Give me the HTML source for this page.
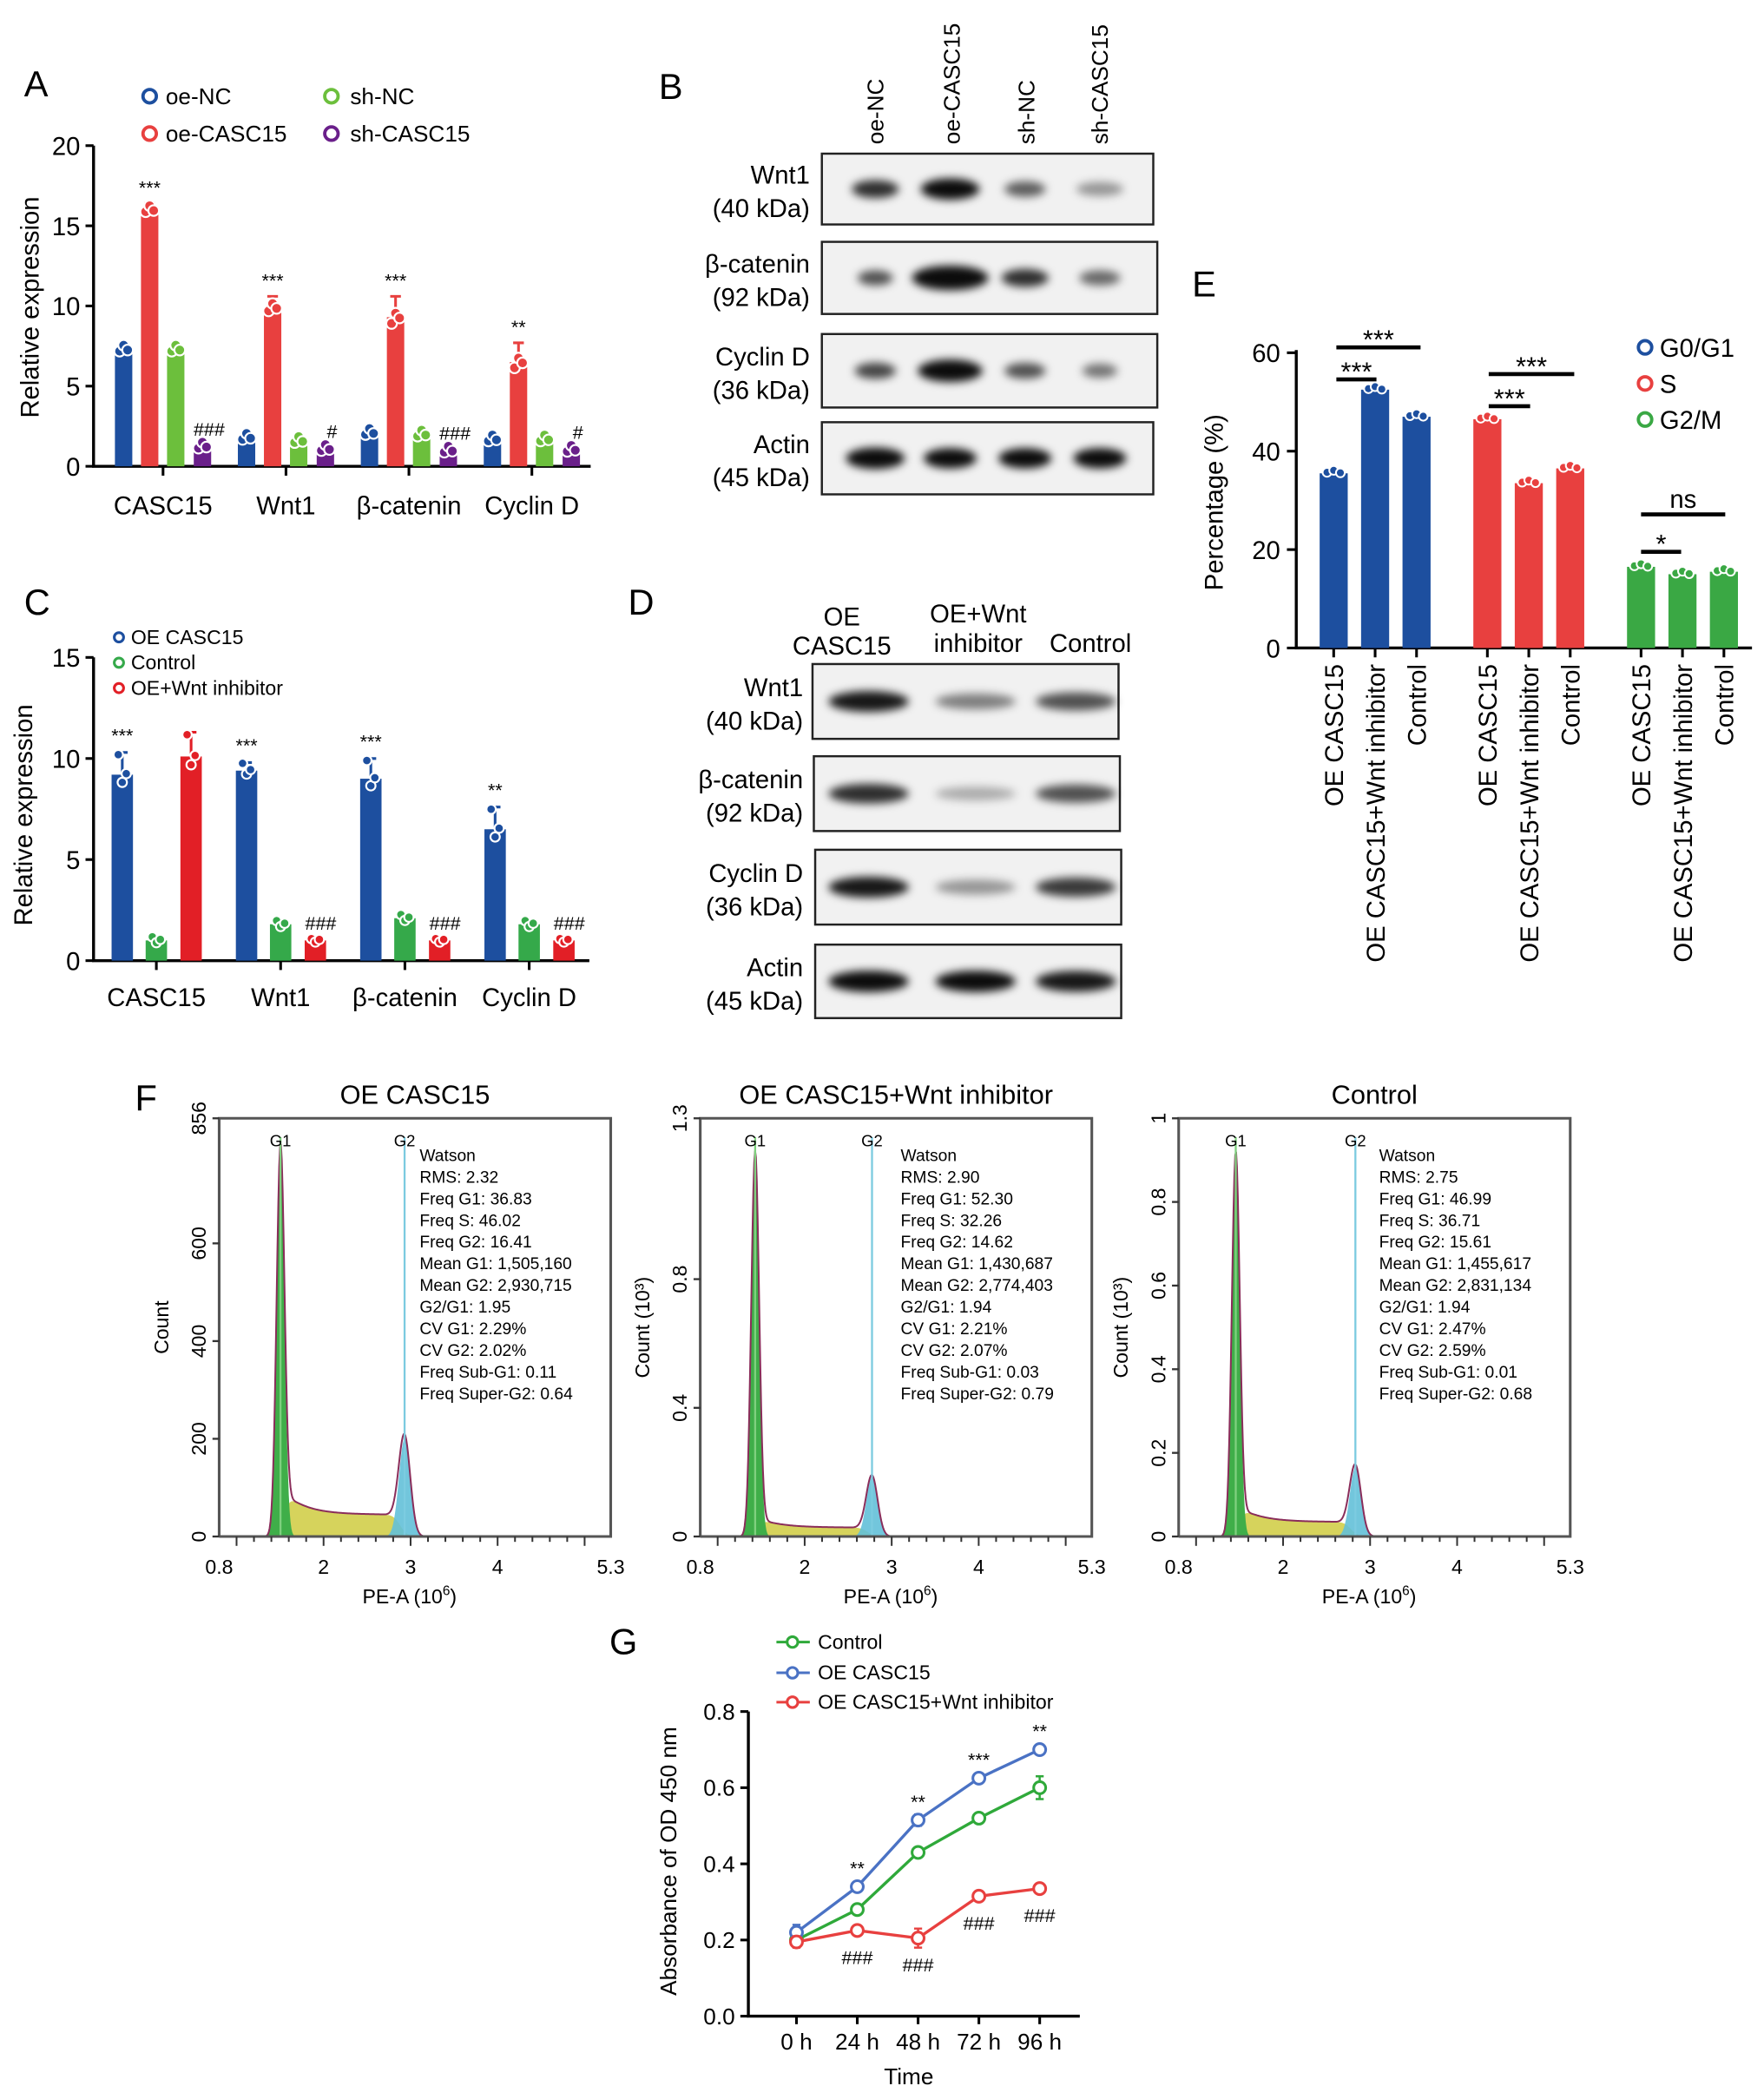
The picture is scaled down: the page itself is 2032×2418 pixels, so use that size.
<!DOCTYPE html>
<html><head><meta charset="utf-8"><style>html,body{margin:0;padding:0;background:#fff}svg{display:block}</style></head>
<body>
<svg id="fig" xmlns="http://www.w3.org/2000/svg" width="2032" height="2418" viewBox="0 0 1320 1571" preserveAspectRatio="none" font-family="Liberation Sans, Arial, sans-serif">
<defs><filter id="blur" x="-50%" y="-100%" width="200%" height="300%"><feGaussianBlur stdDeviation="3.2"/></filter></defs>
<rect width="1320" height="1571" fill="#fff"/>
<!-- Panel letters -->
<text x="18" y="72" font-size="27">A</text>
<text x="493" y="74" font-size="27">B</text>
<text x="18" y="460" font-size="27">C</text>
<text x="470" y="460" font-size="27">D</text>
<text x="892" y="222" font-size="27">E</text>
<text x="101" y="831" font-size="27">F</text>
<text x="456" y="1238" font-size="27">G</text>
<!-- A legend -->
<g font-size="17">
<circle cx="112" cy="72" r="5" fill="none" stroke="#1d4f9f" stroke-width="2.5"/><text x="124" y="78">oe-NC</text>
<circle cx="248" cy="72" r="5" fill="none" stroke="#6cbf3c" stroke-width="2.5"/><text x="262" y="78">sh-NC</text>
<circle cx="112" cy="100" r="5" fill="none" stroke="#e8403f" stroke-width="2.5"/><text x="124" y="106">oe-CASC15</text>
<circle cx="248" cy="100" r="5" fill="none" stroke="#6a1f8a" stroke-width="2.5"/><text x="262" y="106">sh-CASC15</text>
</g>
<text transform="translate(29,230) rotate(-90)" text-anchor="middle" font-size="19">Relative expression</text>
<!-- C legend -->
<g font-size="15">
<circle cx="89" cy="477" r="3.5" fill="none" stroke="#1d4f9f" stroke-width="2"/><text x="98" y="482">OE CASC15</text>
<circle cx="89" cy="496" r="3.5" fill="none" stroke="#35a94a" stroke-width="2"/><text x="98" y="501">Control</text>
<circle cx="89" cy="515" r="3.5" fill="none" stroke="#e21f26" stroke-width="2"/><text x="98" y="520">OE+Wnt inhibitor</text>
</g>
<text transform="translate(24,610) rotate(-90)" text-anchor="middle" font-size="19">Relative expression</text>
<!-- D headers -->
<g font-size="19" text-anchor="middle">
<text x="630" y="468">OE</text>
<text x="630" y="490">CASC15</text>
<text x="732" y="466">OE+Wnt</text>
<text x="732" y="488">inhibitor</text>
<text x="816" y="488">Control</text>
</g>
<!-- E legend -->
<g font-size="19">
<circle cx="1231" cy="260" r="5" fill="none" stroke="#1d4f9f" stroke-width="2.5"/><text x="1242" y="267">G0/G1</text>
<circle cx="1231" cy="287" r="5" fill="none" stroke="#e8403f" stroke-width="2.5"/><text x="1242" y="294">S</text>
<circle cx="1231" cy="314" r="5" fill="none" stroke="#3aa844" stroke-width="2.5"/><text x="1242" y="321">G2/M</text>
</g>
<text transform="translate(915,376) rotate(-90)" text-anchor="middle" font-size="19">Percentage (%)</text>
<!-- G legend / titles -->
<g font-size="15">
<line x1="581" y1="1229" x2="606" y2="1229" stroke="#2fa93a" stroke-width="2"/><circle cx="593" cy="1229" r="4" fill="#fff" stroke="#2fa93a" stroke-width="2"/><text x="612" y="1234">Control</text>
<line x1="581" y1="1252" x2="606" y2="1252" stroke="#4a72c4" stroke-width="2"/><circle cx="593" cy="1252" r="4" fill="#fff" stroke="#4a72c4" stroke-width="2"/><text x="612" y="1257">OE CASC15</text>
<line x1="581" y1="1274" x2="606" y2="1274" stroke="#e8403f" stroke-width="2"/><circle cx="593" cy="1274" r="4" fill="#fff" stroke="#e8403f" stroke-width="2"/><text x="612" y="1279">OE CASC15+Wnt inhibitor</text>
</g>
<text transform="translate(506,1393) rotate(-90)" text-anchor="middle" font-size="17">Absorbance of OD 450 nm</text>
<text x="680" y="1560" text-anchor="middle" font-size="17">Time</text>
<script>
const NS='http://www.w3.org/2000/svg';
const svg=document.getElementById('fig');
function mk(tag,attrs,parent){const e=document.createElementNS(NS,tag);for(const k in attrs)e.setAttribute(k,attrs[k]);(parent||svg).appendChild(e);return e;}
function txt(str,attrs,parent){const e=mk('text',attrs,parent);e.textContent=str;return e;}

/* ---------- Panel A data ---------- */
const aCategories=['CASC15','Wnt1','β-catenin','Cyclin D'];
const aOeNC=[7.3,1.8,2.1,1.7];
const aOeCASC15=[16.0,9.9,9.3,6.5];
const aShNC=[7.3,1.6,2.0,1.7];
const aShCASC15=[1.25,1.1,1.0,1.05];
const aErr=[0.4,0.7,1.3,1.2];
const aYTicks=[0,5,10,15,20];
const aStars=['***','***','***','**'];
const aHash=['###','#','###','#'];
/* ---------- Panel C data ---------- */
const cCategories=['CASC15','Wnt1','β-catenin','Cyclin D'];
const cOE=[9.2,9.4,9.0,6.5];
const cControl=[1.0,1.8,2.1,1.8];
const cInh=[10.1,1.0,1.0,1.0];
const cErrOE=[1.1,0.4,1.0,1.1];
const cErrInh=[1.2,0.1,0.1,0.1];
const cYTicks=[0,5,10,15];
const cStars=['***','***','***','**'];
const cHash=['','###','###','###'];
/* ---------- Panel E data ---------- */
const eGroups=['G0/G1','S','G2/M'];
const eConds=['OE CASC15','OE CASC15+Wnt inhibitor','Control'];
const eG0G1=[35.5,52.5,47.0];
const eS=[46.5,33.5,36.5];
const eG2M=[16.5,15.0,15.5];
const eYTicks=[0,20,40,60];
/* ---------- Panel F data ---------- */
const fTitles=['OE CASC15','OE CASC15+Wnt inhibitor','Control'];
const fG1Mean=[1.505,1.431,1.456];
const fG2Mean=[2.931,2.774,2.831];
const fG1Peak=[790,1.19,0.91];
const fG2Peak=[200,0.185,0.165];
const fSLevel=[45,0.028,0.035];
const fYMax=[856,1.3,1];
const fYTicks=[[0,200,400,600,856],[0,0.4,0.8,1.3],[0,0.2,0.4,0.6,0.8,1]];
const fYLabels=['Count','Count (10³)','Count (10³)'];
const fXTicks=[0.8,2,3,4,5.3];
const fStats=[
['Watson','RMS: 2.32','Freq G1: 36.83','Freq S: 46.02','Freq G2: 16.41','Mean G1: 1,505,160','Mean G2: 2,930,715','G2/G1: 1.95','CV G1: 2.29%','CV G2: 2.02%','Freq Sub-G1: 0.11','Freq Super-G2: 0.64'],
['Watson','RMS: 2.90','Freq G1: 52.30','Freq S: 32.26','Freq G2: 14.62','Mean G1: 1,430,687','Mean G2: 2,774,403','G2/G1: 1.94','CV G1: 2.21%','CV G2: 2.07%','Freq Sub-G1: 0.03','Freq Super-G2: 0.79'],
['Watson','RMS: 2.75','Freq G1: 46.99','Freq S: 36.71','Freq G2: 15.61','Mean G1: 1,455,617','Mean G2: 2,831,134','G2/G1: 1.94','CV G1: 2.47%','CV G2: 2.59%','Freq Sub-G1: 0.01','Freq Super-G2: 0.68']];
/* ---------- Panel G data ---------- */
const gTimes=['0 h','24 h','48 h','72 h','96 h'];
const gControl=[0.20,0.28,0.43,0.52,0.60];
const gOE=[0.22,0.34,0.515,0.625,0.70];
const gInh=[0.195,0.225,0.205,0.315,0.335];
const gErrControl=[0.01,0.01,0.01,0.01,0.03];
const gErrOE=[0.02,0.01,0.015,0.01,0.01];
const gErrInh=[0.015,0.01,0.025,0.01,0.01];
const gYTicks=[0,0.2,0.4,0.6,0.8];
const gStars=['','**','**','***','**'];
const gHash=['','###','###','###','###'];
/* ---------- Blot data (band intensity per lane) ---------- */
const bLanes=['oe-NC','oe-CASC15','sh-NC','sh-CASC15'];
const bProteins=['Wnt1\n(40 kDa)','β-catenin\n(92 kDa)','Cyclin D\n(36 kDa)','Actin\n(45 kDa)'];
const bIntensity=[[0.85,1.0,0.65,0.4],[0.7,1.0,0.85,0.6],[0.75,1.0,0.7,0.55],[1.0,1.0,1.0,1.0]];
const bWidth=[[0.8,1.0,0.7,0.8],[0.6,1.3,0.8,0.7],[0.7,1.1,0.7,0.6],[1.0,0.9,0.9,0.9]];
const dLanes=['OE CASC15','OE+Wnt inhibitor','Control'];
const dIntensity=[[0.95,0.5,0.7],[0.85,0.3,0.7],[0.95,0.4,0.8],[1.0,1.0,0.95]];

const BLUE='#1d4f9f',RED='#e8403f',GREEN='#6cbf3c',PURPLE='#6a1f8a',CRED='#e21f26',CGREEN='#35a94a',EGREEN='#3aa844';

function dots(g,cx,yv,vals,col,r){vals.forEach((v,k)=>{const c=mk('circle',{cx:cx+(k-1)*3,cy:yv(v),r:r,fill:col,stroke:'#fff','stroke-width':1.4},g);

});}
function errbar(g,cx,y1,y2,col){const l=mk('path',{d:`M${cx},${y1}V${y2}M${cx-4},${y2}H${cx+4}`,stroke:col,'stroke-width':2,fill:'none'},g);

}

/* ---------- Panel A ---------- */
(function(){
const g=mk('g',{});


const yA=v=>349-v*12.0, xA=i=>122+i*92;
const ax=mk('path',{d:'M70,109V349H442',stroke:'#000','stroke-width':2.2,fill:'none'},g);


aYTicks.forEach(t=>{const l=mk('line',{x1:64,x2:70,y1:yA(t),y2:yA(t),stroke:'#000','stroke-width':2},g);


const tt=txt(String(t),{x:60,y:yA(t)+7,'text-anchor':'end','font-size':19},g);

});
const series=[[aOeNC,BLUE],[aOeCASC15,RED],[aShNC,GREEN],[aShCASC15,PURPLE]];
const offs=[-29.5,-10,9.5,29.5];
aCategories.forEach((c,i)=>{
 const tk=mk('line',{x1:xA(i),x2:xA(i),y1:349,y2:356,stroke:'#000','stroke-width':2},g);
 
 
 const lab=txt(c,{x:xA(i),y:385,'text-anchor':'middle','font-size':19},g);
 
 
 series.forEach(([arr,col],s)=>{
  const cx=xA(i)+offs[s], v=arr[i];
  const b=mk('rect',{x:cx-6.5,y:yA(v),width:13,height:349-yA(v),fill:col},g);
  
  
  if(s===1){errbar(g,cx,yA(v),yA(v+aErr[i]),col);}
  dots(g,cx,yA,[v-0.3*(s===1?aErr[i]:0.4),v+0.25,v-0.05],col,4);
 });
 const st=txt(aStars[i],{x:xA(i)+offs[1],y:yA(aOeCASC15[i]+aErr[i])-7,'text-anchor':'middle','font-size':14},g);
 
 
 const hs=txt(aHash[i],{x:xA(i)+offs[3]+5,y:yA(aShCASC15[i])-8,'text-anchor':'middle','font-size':14},g);
 
 
});
})();

/* ---------- Panel C ---------- */
(function(){
const g=mk('g',{});


const yC=v=>719-v*15.13, xC=i=>117+i*93;
const ax=mk('path',{d:'M70,492V719H441',stroke:'#000','stroke-width':2.2,fill:'none'},g);


cYTicks.forEach(t=>{const l=mk('line',{x1:64,x2:70,y1:yC(t),y2:yC(t),stroke:'#000','stroke-width':2},g);


const tt=txt(String(t),{x:60,y:yC(t)+7,'text-anchor':'end','font-size':19},g);

});
const series=[[cOE,BLUE,cErrOE],[cControl,CGREEN,null],[cInh,CRED,cErrInh]];
const offs=[-25.5,0,26];
cCategories.forEach((c,i)=>{
 const tk=mk('line',{x1:xC(i),x2:xC(i),y1:719,y2:726,stroke:'#000','stroke-width':2},g);
 
 
 const lab=txt(c,{x:xC(i),y:753,'text-anchor':'middle','font-size':19},g);
 
 
 series.forEach(([arr,col,err],s)=>{
  const cx=xC(i)+offs[s], v=arr[i];
  const b=mk('rect',{x:cx-8,y:yC(v),width:16,height:719-yC(v),fill:col},g);
  
  
  const e=err?err[i]:0.2;
  if(err&&e>0.2)errbar(g,cx,yC(v),yC(v+e),col);
  dots(g,cx,yC,[v+e*0.9,v-0.3*e-0.05,v+0.05],col,3.5);
 });
 const st=txt(cStars[i],{x:xC(i)+offs[0],y:yC(cOE[i]+cErrOE[i])-8,'text-anchor':'middle','font-size':14},g);
 
 
 if(cHash[i]){const hs=txt(cHash[i],{x:xC(i)+offs[2]+4,y:yC(cInh[i])-8,'text-anchor':'middle','font-size':14},g);
 
 }
});
})();

/* ---------- Blots ---------- */
function blot(name,boxes,laneX,intens,widths,baseW,labelX){
 const g=mk('g',{});
 
 
 boxes.forEach((bx,r)=>{
  const rc=mk('rect',{x:bx[0],y:bx[1],width:bx[2],height:bx[3],fill:'#f1f1f1',stroke:'#222','stroke-width':1.6},g);
  
  
  laneX.forEach((lx,k)=>{
   const w=baseW*(widths?widths[r][k]:1);
   const it=intens[r][k];
   const el=mk('ellipse',{cx:lx,cy:bx[1]+bx[3]/2,rx:w,ry:4+5*it*(widths?widths[r][k]:1)*0.8,fill:'#000','fill-opacity':Math.min(1,it*0.95),filter:'url(#blur)'},g);
   
   
  });
  const lines=bProteins[r].split('\n');
  lines.forEach((ln,j)=>{const t=txt(ln,{x:labelX,y:bx[1]+bx[3]/2-4+j*25,'text-anchor':'end','font-size':19},g);
  
  });
 });
}
blot('western-blot-b',[[615,115,248,53],[615,181,251,54],[615,250,251,55],[615,316,248,54]],[655,711,767,823],bIntensity,bWidth,22,606);
blot('western-blot-d',[[608,497,229,56],[609,566,229,56],[610,636,229,56],[610,707,229,55]],[650,730,805],dIntensity,null,30,601);
(function(){
 bLanes.forEach((l,k)=>{const t=txt(l,{transform:`translate(${[661,718,774,829][k]},108) rotate(-90)`,'font-size':17},svg);
 
 });
})();

/* ---------- Panel E ---------- */
(function(){
const g=mk('g',{});


const yE=v=>485-v*3.683, xE=(gi,i)=>998+gi*115+i*31;
const ax=mk('path',{d:'M970,262V485H1311',stroke:'#000','stroke-width':2.2,fill:'none'},g);


eYTicks.forEach(t=>{const l=mk('line',{x1:963,x2:970,y1:yE(t),y2:yE(t),stroke:'#000','stroke-width':2},g);


const tt=txt(String(t),{x:958,y:yE(t)+7,'text-anchor':'end','font-size':19},g);

});
const series=[[eG0G1,BLUE],[eS,RED],[eG2M,EGREEN]];
series.forEach(([arr,col],gi)=>{
 arr.forEach((v,i)=>{
  const cx=xE(gi,i);
  const b=mk('rect',{x:cx-10.5,y:yE(v),width:21,height:485-yE(v),fill:col},g);
  
  
  [-5,0,5].forEach((dx,k)=>{const c=mk('circle',{cx:cx+dx,cy:yE(v+[0.2,0.6,0.1][k]),r:3.3,fill:col,stroke:'#fff','stroke-width':1.3},g);
  
  });
  const tk=mk('line',{x1:cx,x2:cx,y1:485,y2:492,stroke:'#000','stroke-width':2},g);
  
  
  const lab=txt(eConds[i],{transform:`translate(${cx+7},497) rotate(-90)`,'text-anchor':'end','font-size':19},g);
  
  
 });
});
const brackets=[[1000,1063,260,'***'],[1000,1030,284,'***'],[1114,1178,280,'***'],[1114,1145,304,'***'],[1228,1291,385,'ns'],[1228,1258,413,'*']];
brackets.forEach(([x1,x2,y,s])=>{
 const l=mk('line',{x1:x1,x2:x2,y1:y,y2:y,stroke:'#000','stroke-width':3},g);
 
 
 const t=txt(s,{x:(x1+x2)/2,y:y-5+(s.includes('*')?6:0),'text-anchor':'middle','font-size':s==='ns'?19:20},g);
 
 
});
})();

/* ---------- Panel F ---------- */
(function(){
const lefts=[164,524,882], W=293, top=837, bot=1150, H=bot-top;
fTitles.forEach((title,p)=>{
 const g=mk('g',{});
 
 
 const L=lefts[p];
 const xF=v=>L+(v-0.8)*(W/4.5);
 const yF=c=>bot-c/fYMax[p]*H;
 const tt=txt(title,{x:L+W/2,y:826,'text-anchor':'middle','font-size':20},g);
 
 
 const s1=0.045,s2=0.065,g1=fG1Mean[p],g2=fG2Mean[p],S=fSLevel[p];
 const gauss=(x,m,s)=>Math.exp(-0.5*((x-m)/s)**2);
 const sPart=x=>{const a=1/(1+Math.exp(-(x-g1-0.05)/0.03)), b=1/(1+Math.exp((x-g2+0.05)/0.04));return S*(1+1.2*Math.exp(-(x-g1)/0.25))*a*b;};
 const xs=[];for(let x=1.2;x<=3.6;x+=0.01)xs.push(x);
 const poly=f=>'M'+xF(xs[0])+','+bot+xs.map(x=>'L'+xF(x).toFixed(2)+','+yF(f(x)).toFixed(2)).join('')+'L'+xF(xs[xs.length-1])+','+bot+'Z';
 const sP=mk('path',{d:poly(sPart),fill:'#d6d35c'},g);
 
 
 const g2P=mk('path',{d:poly(x=>fG2Peak[p]*gauss(x,g2,s2)),fill:'#63c0d8','fill-opacity':0.9},g);
 
 
 const g1P=mk('path',{d:poly(x=>fG1Peak[p]*gauss(x,g1,s1)),fill:'#3fae49'},g);
 
 
 const tot=x=>fG1Peak[p]*gauss(x,g1,s1)+fG2Peak[p]*gauss(x,g2,s2)+sPart(x);
 const line=mk('path',{d:'M'+xs.map(x=>xF(x).toFixed(2)+','+yF(tot(x)).toFixed(2)).join('L'),fill:'none',stroke:'#8a2d5a','stroke-width':1.3},g);
 
 
 [[g1,'G1','#7fd07f'],[g2,'G2','#7ccbe0']].forEach(([m,lab,col])=>{
  const l=mk('line',{x1:xF(m),x2:xF(m),y1:top+14,y2:bot,stroke:col,'stroke-width':1.5},g);
  
  
  const t=txt(lab,{x:xF(m),y:top+21,'text-anchor':'middle','font-size':12},g);
  
  
 });
 const fr=mk('path',{d:`M${L},${bot}V${top}H${L+W}V${bot}H${L}`,fill:'none',stroke:'#555','stroke-width':2},g);
 
 
 fYTicks[p].forEach(t=>{
  const l=mk('line',{x1:L-5,x2:L,y1:yF(t),y2:yF(t),stroke:'#333','stroke-width':1.5},g);
  
  
  const tx=txt(String(t),{transform:`translate(${L-10},${yF(t)}) rotate(-90)`,'text-anchor':'middle','font-size':15},g);
  
  
 });
 for(let v=1;v<=5.2;v+=0.2){const mj=Math.abs(v-Math.round(v))<0.01;const l=mk('line',{x1:xF(v),x2:xF(v),y1:bot,y2:bot+(mj?7:4),stroke:'#333','stroke-width':1.3},g);
 
 }
 fXTicks.forEach(t=>{const tx=txt(String(t),{x:xF(t),y:1178,'text-anchor':'middle','font-size':15},g);
 
 });
 const xl=txt('PE-A (10',{x:L+W/2-4,y:1200,'text-anchor':'middle','font-size':15},g);
 
 
 const sup=mk('tspan',{dy:-6,'font-size':10},xl);sup.textContent='6';
 
 
 const sup2=mk('tspan',{dy:6},xl);sup2.textContent=')';
 
 
 const yl=txt(fYLabels[p],{transform:`translate(${L-38},${top+H/2}) rotate(-90)`,'text-anchor':'middle','font-size':15},g);
 
 
 fStats[p].forEach((s,k)=>{const t=txt(s,{x:L+150,y:869+k*16.2,'font-size':12.5},g);
 
 });
});
})();

/* ---------- Panel G ---------- */
(function(){
const g=mk('g',{});


const yG=v=>1509-v*285, xG=i=>596+i*45.5;
const ax=mk('path',{d:'M560,1281V1509H808',stroke:'#000','stroke-width':2.2,fill:'none'},g);


gYTicks.forEach(t=>{const l=mk('line',{x1:554,x2:560,y1:yG(t),y2:yG(t),stroke:'#000','stroke-width':2},g);


const tt=txt(t.toFixed(1),{x:550,y:yG(t)+6,'text-anchor':'end','font-size':17},g);

});
gTimes.forEach((t,i)=>{const l=mk('line',{x1:xG(i),x2:xG(i),y1:1509,y2:1515,stroke:'#000','stroke-width':2},g);


const tt=txt(t,{x:xG(i),y:1534,'text-anchor':'middle','font-size':17},g);

});
const series=[[gControl,gErrControl,'#2fa93a','line-control'],[gOE,gErrOE,'#4a72c4','line-oe-casc15'],[gInh,gErrInh,'#e8403f','line-oe-wnt-inhibitor']];
series.forEach(([arr,err,col,nm])=>{
 const p=mk('path',{d:'M'+arr.map((v,i)=>xG(i)+','+yG(v)).join('L'),fill:'none',stroke:col,'stroke-width':2.2},g);
 
 
 arr.forEach((v,i)=>{
  const e=mk('path',{d:`M${xG(i)},${yG(v-err[i])}V${yG(v+err[i])}M${xG(i)-3},${yG(v-err[i])}H${xG(i)+3}M${xG(i)-3},${yG(v+err[i])}H${xG(i)+3}`,stroke:col,'stroke-width':1.6,fill:'none'},g);
  
  
  const c=mk('circle',{cx:xG(i),cy:yG(v),r:4.5,fill:'#fff',stroke:col,'stroke-width':2},g);
  
  
 });
});
gTimes.forEach((t,i)=>{
 if(gStars[i]){const s=txt(gStars[i],{x:xG(i),y:yG(gOE[i])-9,'text-anchor':'middle','font-size':14},g);
 
 }
 if(gHash[i]){const h=txt(gHash[i],{x:xG(i),y:yG(gInh[i])+25,'text-anchor':'middle','font-size':14},g);
 
 }
});
})();
</script>
</svg>
</body></html>
